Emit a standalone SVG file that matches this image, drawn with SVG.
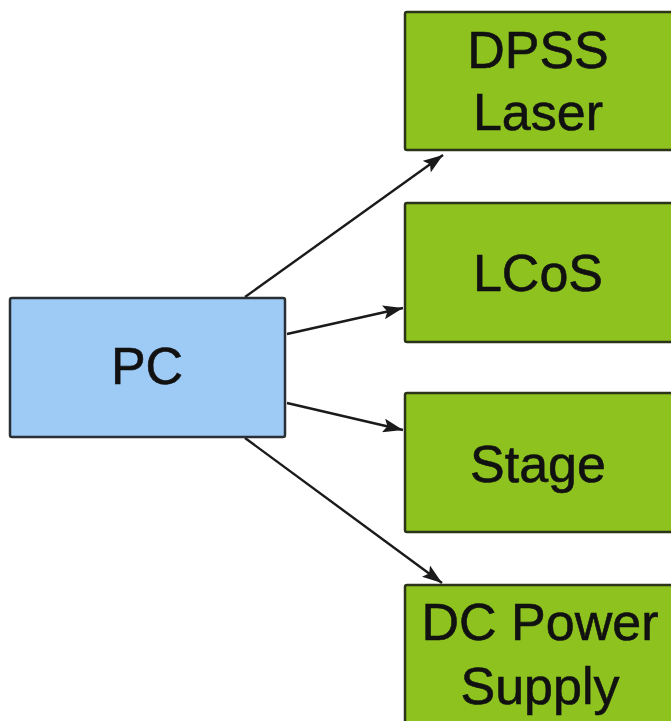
<svg xmlns="http://www.w3.org/2000/svg" width="671" height="721" viewBox="0 0 671 721">
  <defs>
    <marker id="arrow" viewBox="0 0 20 14" refX="20" refY="7" markerWidth="20" markerHeight="14" markerUnits="userSpaceOnUse" orient="auto">
      <path d="M0,0 L20,7 L0,14 L4,7 z" fill="#1a1a1a"/>
    </marker>
    <style>
      .box-pc { fill: #9ecbf5; stroke: #2a2f33; stroke-width: 2.5; }
      .box-dev { fill: #8ec21f; stroke: #2b3318; stroke-width: 2.5; }
      .label { font-family: "Liberation Sans", Arial, sans-serif; font-size: 52px; fill: #111; stroke: #111; stroke-width: 0.6; text-anchor: middle; }
      .link { stroke: #1a1a1a; stroke-width: 2.4; fill: none; marker-end: url(#arrow); }
    </style>
  </defs>
  <rect width="671" height="721" fill="#ffffff"/>

  <g id="connectors">
    <line class="link" x1="245" y1="297" x2="443" y2="155"/>
    <line class="link" x1="287" y1="334" x2="403" y2="308"/>
    <line class="link" x1="287" y1="403" x2="403" y2="430"/>
    <line class="link" x1="245" y1="438" x2="442" y2="583"/>
  </g>

  <g id="pc">
    <rect class="box-pc" x="10" y="298" width="275" height="139" rx="2"/>
    <text class="label" x="147" y="384">PC</text>
  </g>

  <g id="dpss-laser">
    <rect class="box-dev" x="405" y="12" width="280" height="138" rx="2"/>
    <text class="label" x="538" y="68">DPSS</text>
    <text class="label" x="538" y="130">Laser</text>
  </g>

  <g id="lcos">
    <rect class="box-dev" x="405" y="203" width="280" height="139" rx="2"/>
    <text class="label" x="538" y="291">LCoS</text>
  </g>

  <g id="stage">
    <rect class="box-dev" x="405" y="393" width="280" height="139" rx="2"/>
    <text class="label" x="538" y="482">Stage</text>
  </g>

  <g id="dc-power-supply">
    <rect class="box-dev" x="405" y="585" width="280" height="150" rx="2"/>
    <text class="label" x="540" y="640">DC Power</text>
    <text class="label" x="540" y="704">Supply</text>
  </g>
</svg>
